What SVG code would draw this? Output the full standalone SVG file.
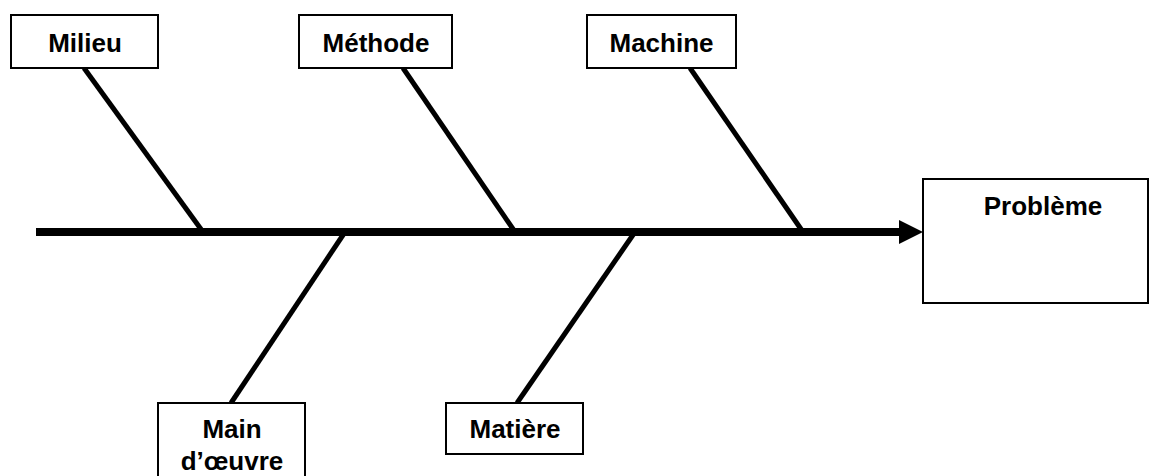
<svg xmlns="http://www.w3.org/2000/svg" width="1151" height="476" viewBox="0 0 1151 476">
<style>
.box{fill:#fff;stroke:#000;stroke-width:2}
.lbl{font-family:"Liberation Sans",Arial,sans-serif;font-weight:bold;font-size:26px;fill:#000;text-anchor:middle}
.bone{stroke:#000;stroke-width:5;fill:none}
.spine{stroke:#000;stroke-width:8;fill:none}
</style>
<rect width="1151" height="476" fill="#fff"/>
<g id="connectors">
<line class="spine" x1="36" y1="232" x2="902" y2="232"/>
<polygon points="899,220 923,232 899,244" fill="#000"/>
<line class="bone" x1="84" y1="68" x2="203" y2="232"/>
<line class="bone" x1="403" y1="68" x2="515" y2="232"/>
<line class="bone" x1="690" y1="68" x2="803" y2="232"/>
<line class="bone" x1="345" y1="232" x2="231" y2="403"/>
<line class="bone" x1="635" y1="232" x2="517" y2="403"/>
</g>
<g id="milieu"><rect class="box" x="11" y="15" width="147" height="53"/><text class="lbl" x="85" y="52">Milieu</text></g>
<g id="methode"><rect class="box" x="299" y="15" width="153" height="53"/><text class="lbl" x="376" y="52">Méthode</text></g>
<g id="machine"><rect class="box" x="587" y="15" width="149" height="53"/><text class="lbl" x="661.5" y="52">Machine</text></g>
<g id="probleme"><rect class="box" x="923" y="179" width="225" height="124"/><text class="lbl" x="1043" y="215">Problème</text></g>
<g id="main-oeuvre"><rect class="box" x="158" y="403" width="147" height="80"/><text class="lbl" x="232" y="438">Main</text><text class="lbl" x="232" y="470">d’œuvre</text></g>
<g id="matiere"><rect class="box" x="446" y="403" width="137" height="51"/><text class="lbl" x="515" y="438">Matière</text></g>
</svg>
